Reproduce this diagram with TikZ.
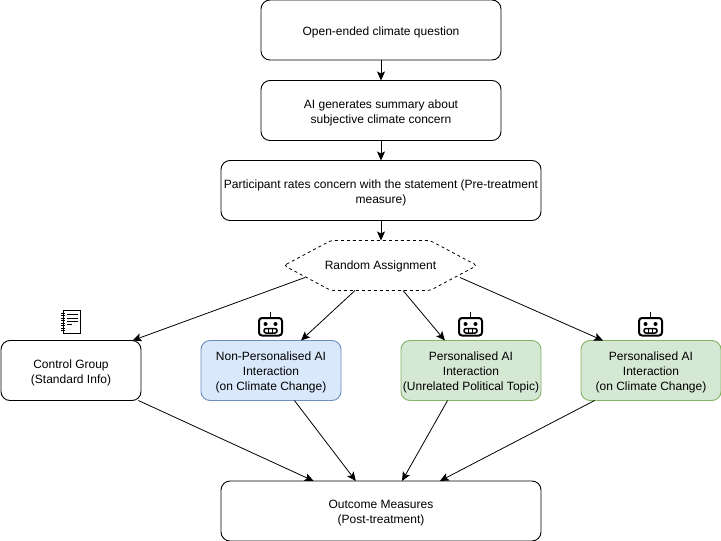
\documentclass[tikz,border=0pt]{standalone}
\usepackage{fontspec}
\setmainfont{Liberation Sans}
\usetikzlibrary{arrows.meta}

\begin{document}
\begin{tikzpicture}[x=1pt,y=-1pt]
\tikzset{box/.style = {shape=rectangle,draw,rounded corners=9pt,line width=0.9pt,align=center,inner sep=0pt,outer sep=0pt,font=\fontsize{12}{15}\selectfont,text height=14pt}}
\tikzset{two lines/.style = {text height=28pt}}
\tikzset{three lines/.style = {text height=43pt}}
\tikzset{blue box/.style = {box,draw={rgb,255:red,108;green,142;blue,191},fill={rgb,255:red,218;green,232;blue,252}}}
\tikzset{green box/.style = {box,draw={rgb,255:red,130;green,179;blue,102},fill={rgb,255:red,213;green,232;blue,212}}}
\tikzset{edge/.style = {-{Stealth[length=9pt,width=8pt,inset=2pt]},line width=0.8pt}}
\useasboundingbox (0,0) rectangle (721,541);
\node[box,minimum width=240pt,minimum height=60pt](question) at (381, 30) {Open-ended climate question};
\node[box,two lines,minimum width=240pt,minimum height=60pt](summary) at (381, 110.5) {AI generates summary about\\subjective climate concern};
\node[box,two lines,minimum width=320pt,minimum height=60pt](rates) at (381, 190.5) {Participant rates concern with the statement (Pre-treatment\\measure)};
% random assignment hexagon
\coordinate (h1) at (284,265.5);
\coordinate (h2) at (331,240.5);
\coordinate (h3) at (430,240.5);
\coordinate (h4) at (477,265.5);
\coordinate (h5) at (430,290.5);
\coordinate (h6) at (331,290.5);
\draw[dashed,line width=0.8pt,rounded corners=3pt] (h1) -- (h2) -- (h3) -- (h4) -- (h5) -- (h6) -- cycle;
\node[font=\fontsize{12}{15}\selectfont,inner sep=0pt](assign) at (380.5, 266.5) {Random Assignment};
\coordinate (a1) at (305,277.5);
\coordinate (a2) at (355,290.5);
\coordinate (a3) at (403,290.5);
\coordinate (a4) at (460,277.5);
\coordinate (a0) at (381,240.5);
\node[box,two lines,minimum width=140pt,minimum height=60pt](control) at (71, 370.5) {Control Group\\(Standard Info)};
\node[blue box,three lines,minimum width=140pt,minimum height=60pt](nonpers) at (271, 370.5) {Non-Personalised AI\\Interaction\\(on Climate Change)};
\node[green box,three lines,minimum width=140pt,minimum height=60pt](unrelated) at (471, 370.5) {Personalised AI\\Interaction\\(Unrelated Political Topic)};
\node[green box,three lines,minimum width=140pt,minimum height=60pt](pers) at (651, 370.5) {Personalised AI\\Interaction\\(on Climate Change)};
\node[box,two lines,minimum width=320pt,minimum height=60pt](outcome) at (381, 511) {Outcome Measures\\(Post-treatment)};
\draw[edge] (question) -- (summary);
\draw[edge] (summary) -- (rates);
\draw[edge] (rates) -- (a0);
\draw[edge] (a1) -- (control.26);
\draw[edge] (a2) -- (nonpers.45);
\draw[edge] (a3) -- (unrelated.131);
\draw[edge] (a4) -- (pers.148);
\draw[edge] (control.-24) -- (outcome.156);
\draw[edge] (nonpers.-52) -- (outcome.130);
\draw[edge] (unrelated.-128) -- (outcome.55);
\draw[edge] (pers.-152) -- (outcome.27);
% robot icons
\foreach \x in {270.5,470.5,650.5} {
  \draw[line width=2pt,rounded corners=3pt] (\x-11.5,318) rectangle (\x+11.5,335.5);
  \draw[line width=1.4pt] (\x,312) -- (\x,318);
  \fill (\x-5,324) circle (2pt);
  \fill (\x+5,324) circle (2pt);
  \draw[line width=1.5pt,rounded corners=2pt] (\x-6.5,328.5) rectangle (\x+6.5,333);
  \draw[line width=1pt] (\x-2,328.5) -- (\x-2,333) (\x+2,328.5) -- (\x+2,333);
}
% notebook icon
\draw[line width=1pt] (63,310.5) rectangle (80.5,333.5);
\foreach \y in {313,315.5,...,332} {
  \draw[line width=0.8pt] (61,\y) -- (64.5,\y);
}
\draw[line width=1pt] (67,314.5) -- (77.5,314.5);
\draw[line width=1pt] (67,318) -- (77.5,318);
\draw[line width=1pt] (67,321) -- (77.5,321);
\draw[line width=1pt] (67,324) -- (72,324);
\end{tikzpicture}
\end{document}
